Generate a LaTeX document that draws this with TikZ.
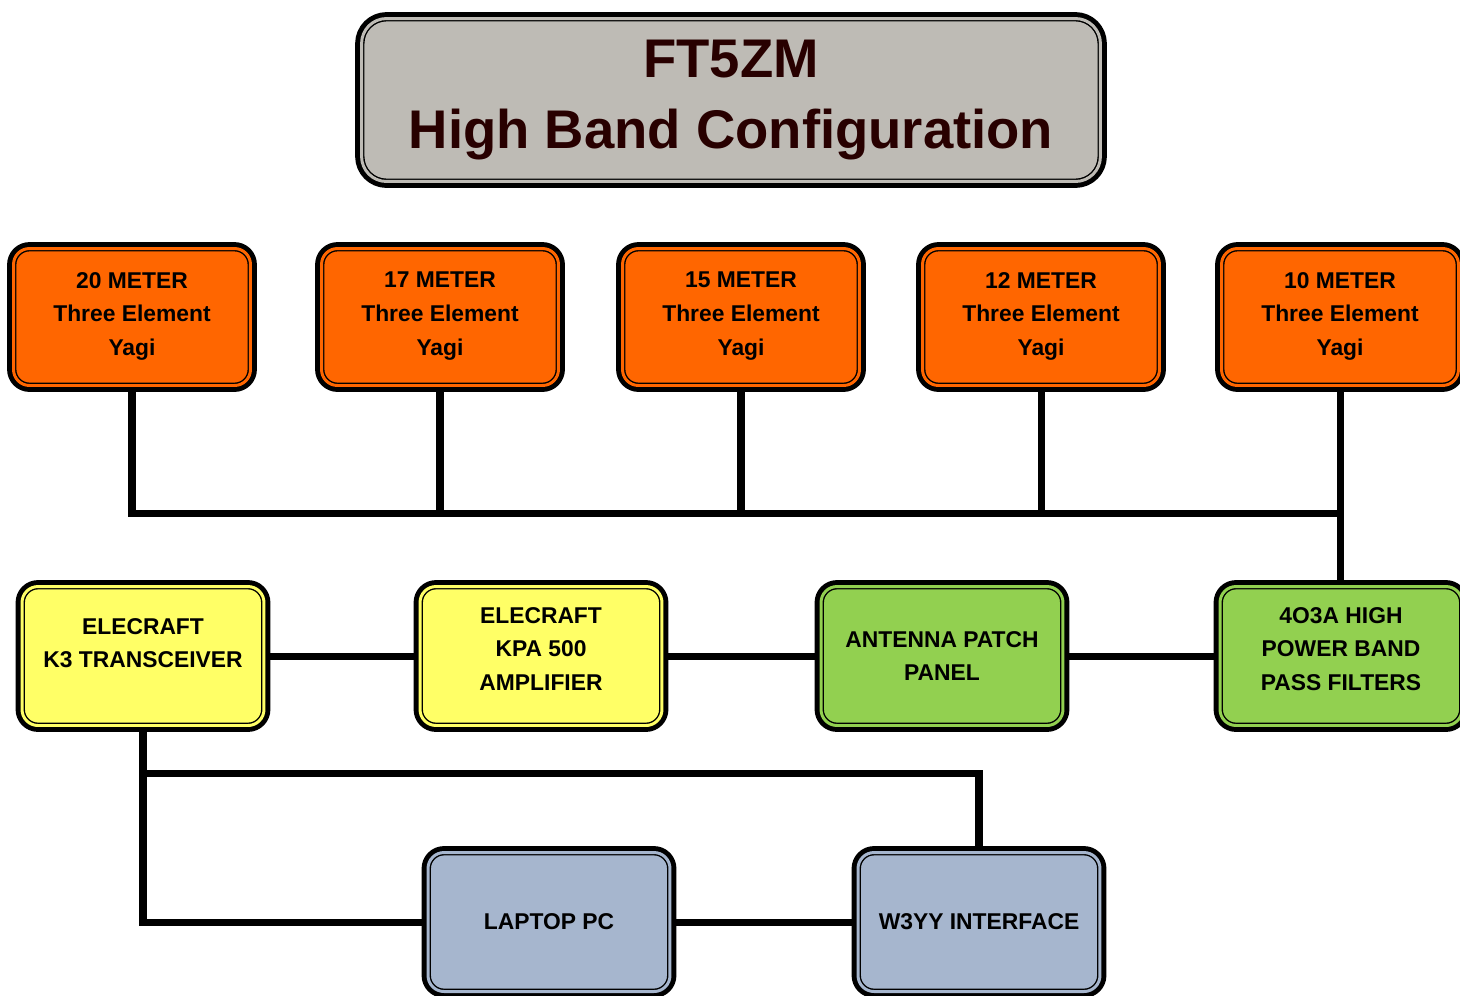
\documentclass[tikz,border=0pt]{standalone}
\usepackage{fontspec}
\setmainfont{Liberation Sans}
\usetikzlibrary{backgrounds}
\definecolor{titlegray}{RGB}{190,187,181}
\definecolor{titletext}{RGB}{40,0,0}
\definecolor{yagiorange}{RGB}{255,102,0}
\definecolor{rigyellow}{RGB}{255,255,102}
\definecolor{filtergreen}{RGB}{146,208,80}
\definecolor{pcblue}{RGB}{166,182,206}
\begin{document}
\begin{tikzpicture}[x=0.02cm, y=-0.02cm, line join=round,
    box/.style={draw=black, fill=#1, double=#1, line width=0.8pt, double distance=1.7pt,
      preaction={draw=black, line width=7.3pt}, rounded corners=0.32cm, align=center,
      font=\bfseries\fontsize{13}{19.3}\selectfont, minimum width=4.84cm, minimum height=2.78cm},
    wire/.style={line width=4pt}]
    \useasboundingbox (0,0) rectangle (1460,995);
    % title
    \node[box=titlegray, rounded corners=0.5cm, minimum width=14.78cm, minimum height=3.26cm,
      font=\bfseries\fontsize{31}{40}\selectfont, text=titletext] (title) at (731,100)
      {FT5ZM\\High Band Configuration};
    % antennas
    \foreach \m/\x in {20/132,17/440,15/741,12/1041,10/1340}
      \node[box=yagiorange, minimum width=4.74cm, minimum height=2.74cm, text depth=0.12cm] (y\m) at (\x,317)
        {\m\ METER\\Three Element\\Yagi};
    % station
    \node[box=rigyellow, text depth=0.52cm] (k3) at (143,656) {ELECRAFT\\K3 TRANSCEIVER};
    \node[box=rigyellow, text depth=0.28cm] (kpa) at (541,656) {ELECRAFT\\KPA 500\\AMPLIFIER};
    \node[box=filtergreen] (patch) at (942,656) {ANTENNA PATCH\\PANEL};
    \node[box=filtergreen, text depth=0.28cm] (bpf) at (1341,656) {4O3A HIGH\\POWER BAND\\PASS FILTERS};
    \node[box=pcblue] (laptop) at (549,922) {LAPTOP PC};
    \node[box=pcblue] (w3yy) at (979,922) {W3YY INTERFACE};
    \coordinate (bus) at (0,513);
    \coordinate (tap) at (0,773);
    \begin{scope}[on background layer]
      \foreach \m in {17,15,12,10}\draw[wire] (y\m.south) -- (y\m.south |- bus);
      \draw[wire] (y20.south) |- (y10.south |- bus) -- (y10.south |- bpf.north);
      \draw[wire] (k3) -- (kpa) -- (patch) -- (bpf);
      \draw[wire] (k3.south) |- (laptop.west);
      \draw[wire] (k3.south |- tap) -| (w3yy.north);
      \draw[wire] (laptop) -- (w3yy);
    \end{scope}
\end{tikzpicture}
\end{document}
